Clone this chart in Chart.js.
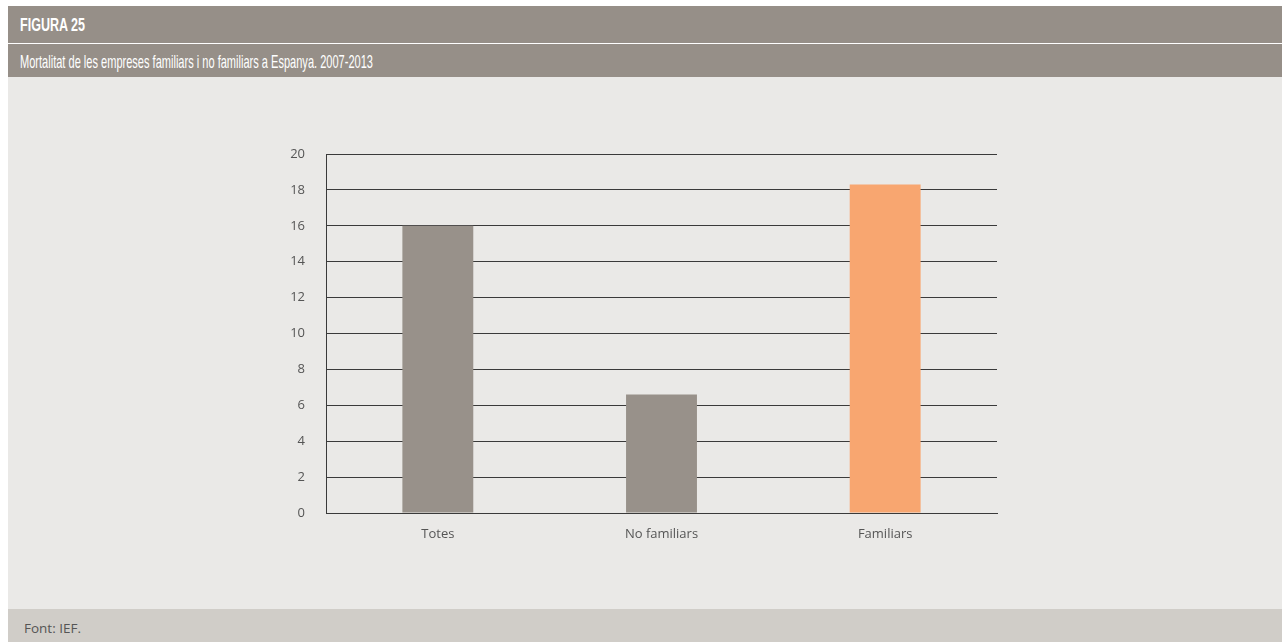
<!DOCTYPE html>
<html>
<head>
<meta charset="utf-8">
<script src="https://cdn.jsdelivr.net/npm/chart.js@4/dist/chart.umd.min.js"></script>
<style>
  html, body { margin: 0; padding: 0; background: #ffffff; }
  body { width: 1282px; height: 642px; position: relative; overflow: hidden; font-family: "Open Sans", "Noto Sans", sans-serif; }
  .band { position: absolute; left: 8px; right: 0; color: #ffffff; box-sizing: border-box; padding-left: 12px;
          font-family: "Liberation Sans", "Roboto", sans-serif; white-space: nowrap; }
  .band span { display: inline-block; transform-origin: 0 50%; }
  #fig { top: 6px; height: 37px; background: #968f88; font-weight: bold; font-size: 18px; line-height: 38px; }
  #sub { top: 44px; height: 33px; background: #968f88; font-size: 19px; line-height: 35px; }
  #plot { position: absolute; left: 8px; top: 77px; width: 1274px; height: 532px; background: #eae9e7; }
  #foot { position: absolute; left: 8px; top: 609px; width: 1274px; height: 33px; background: #d0cdc8;
          color: #555; font-size: 13.5px; line-height: 38px; padding-left: 16px; box-sizing: border-box; }
</style>
</head>
<body>
<div class="band" id="fig"><span data-w="65">FIGURA 25</span></div>
<div class="band" id="sub"><span data-w="353">Mortalitat de les empreses familiars i no familiars a Espanya. 2007-2013</span></div>
<div id="plot"><canvas id="c" width="1274" height="532"></canvas></div>
<div id="foot">Font: IEF.</div>
<script>
// Condensed look for the heading bands: squeeze each title to its set width
document.querySelectorAll(".band span").forEach(el => {
  const k = Number(el.dataset.w) / el.getBoundingClientRect().width;
  el.style.transform = "scaleX(" + k + ")";
});

// Mortality rate by type of company
const categories = ["Totes", "No familiars", "Familiars"];
const mortality = [16.0, 6.6, 18.3];
const yTicks = [0, 2, 4, 6, 8, 10, 12, 14, 16, 18, 20];

const barColors = ["#98918a", "#98918a", "#f8a670"];
const inkColor = "#3a3a3a";
const labelColor = "#555555";

new Chart(document.getElementById("c"), {
  type: "bar",
  data: {
    labels: categories,
    datasets: [{
      data: mortality,
      backgroundColor: barColors,
      borderWidth: 0,
      categoryPercentage: 1.0,
      barPercentage: 0.317
    }]
  },
  options: {
    responsive: false,
    animation: false,
    devicePixelRatio: 1,
    layout: { padding: { left: 278, right: 285, top: 77, bottom: 36 } },
    plugins: { legend: { display: false }, tooltip: { enabled: false } },
    scales: {
      x: {
        grid: { display: false, drawTicks: false },
        border: { display: true, color: inkColor, width: 1 },
        ticks: { color: labelColor, padding: 13, font: { family: "Open Sans", size: 13 } },
        afterFit: s => { s.height = 60; }
      },
      y: {
        min: 0, max: 20,
        afterBuildTicks: s => { s.ticks = yTicks.map(v => ({ value: v })); },
        grid: { color: inkColor, lineWidth: 1, drawTicks: false },
        border: { display: true, color: inkColor, width: 1 },
        ticks: { color: labelColor, padding: 21, font: { family: "Open Sans", size: 13 } },
        afterFit: s => { s.width = 40; }
      }
    }
  }
});
</script>
</body>
</html>
